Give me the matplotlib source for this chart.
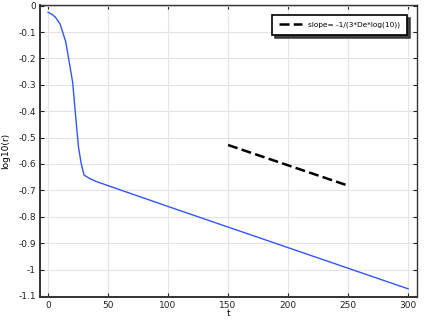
import numpy as np
import matplotlib
matplotlib.use('Agg')
import matplotlib.pyplot as plt

# log10(r) vs t
t = [0, 3, 6, 10, 14.7, 18.3, 20.6, 22.5, 25.3, 27.5, 30, 35, 40, 50, 100, 150, 200, 250, 300]
log_r = [-0.025, -0.032, -0.043, -0.069, -0.136, -0.231, -0.294, -0.395, -0.534, -0.596,
         -0.642, -0.656, -0.666, -0.682, -0.761, -0.839, -0.917, -0.995, -1.073]

# reference slope line
slope_t = [150, 250]
slope_y = [-0.528, -0.682]

xticks = [0, 50, 100, 150, 200, 250, 300]
yticks = [0, -0.1, -0.2, -0.3, -0.4, -0.5, -0.6, -0.7, -0.8, -0.9, -1, -1.1]
ytick_labels = ['0', '-0.1', '-0.2', '-0.3', '-0.4', '-0.5', '-0.6', '-0.7', '-0.8', '-0.9', '-1', '-1.1']

fig = plt.figure(figsize=(4.28, 3.26), dpi=100)
ax = fig.add_axes([0.0935, 0.089, 0.881, 0.896])

ax.plot(t, log_r, color='#3355ff', linewidth=1.0)
ax.plot(slope_t, slope_y, color='black', linewidth=1.8, linestyle=(0, (4, 1.7)),
        label='slope= -1/(3*De*log(10))')

ax.set_xlim(-6.7, 307.5)
ax.set_ylim(-1.104, 0.003)
ax.set_xticks(xticks)
ax.set_yticks(yticks)
ax.set_yticklabels(ytick_labels)
ax.grid(True, color='#e4e4e4', linewidth=0.8)
ax.set_axisbelow(True)

ax.tick_params(direction='in', length=3, width=0.8, labelsize=6.5, colors='#222222',
               top=True, right=True, pad=3)
for s in ax.spines.values():
    s.set_color('#333333')
    s.set_linewidth(1.0)
ax.spines['left'].set_linewidth(1.4)
ax.spines['bottom'].set_linewidth(1.4)

ax.set_xlabel('t', fontsize=6.5, labelpad=-1)
ax.set_ylabel('log10(r)', fontsize=6.5, labelpad=6)

leg = ax.legend(loc='upper right', bbox_to_anchor=(0.973, 0.966), borderaxespad=0,
                fontsize=5.3, frameon=True, fancybox=False,
                shadow={'color': '#333333', 'alpha': 0.9}, borderpad=0.9,
                handlelength=3.2, handletextpad=0.8)
leg.get_frame().set_edgecolor('black')
leg.get_frame().set_linewidth(1.2)

fig.savefig('out.png', dpi=100)
